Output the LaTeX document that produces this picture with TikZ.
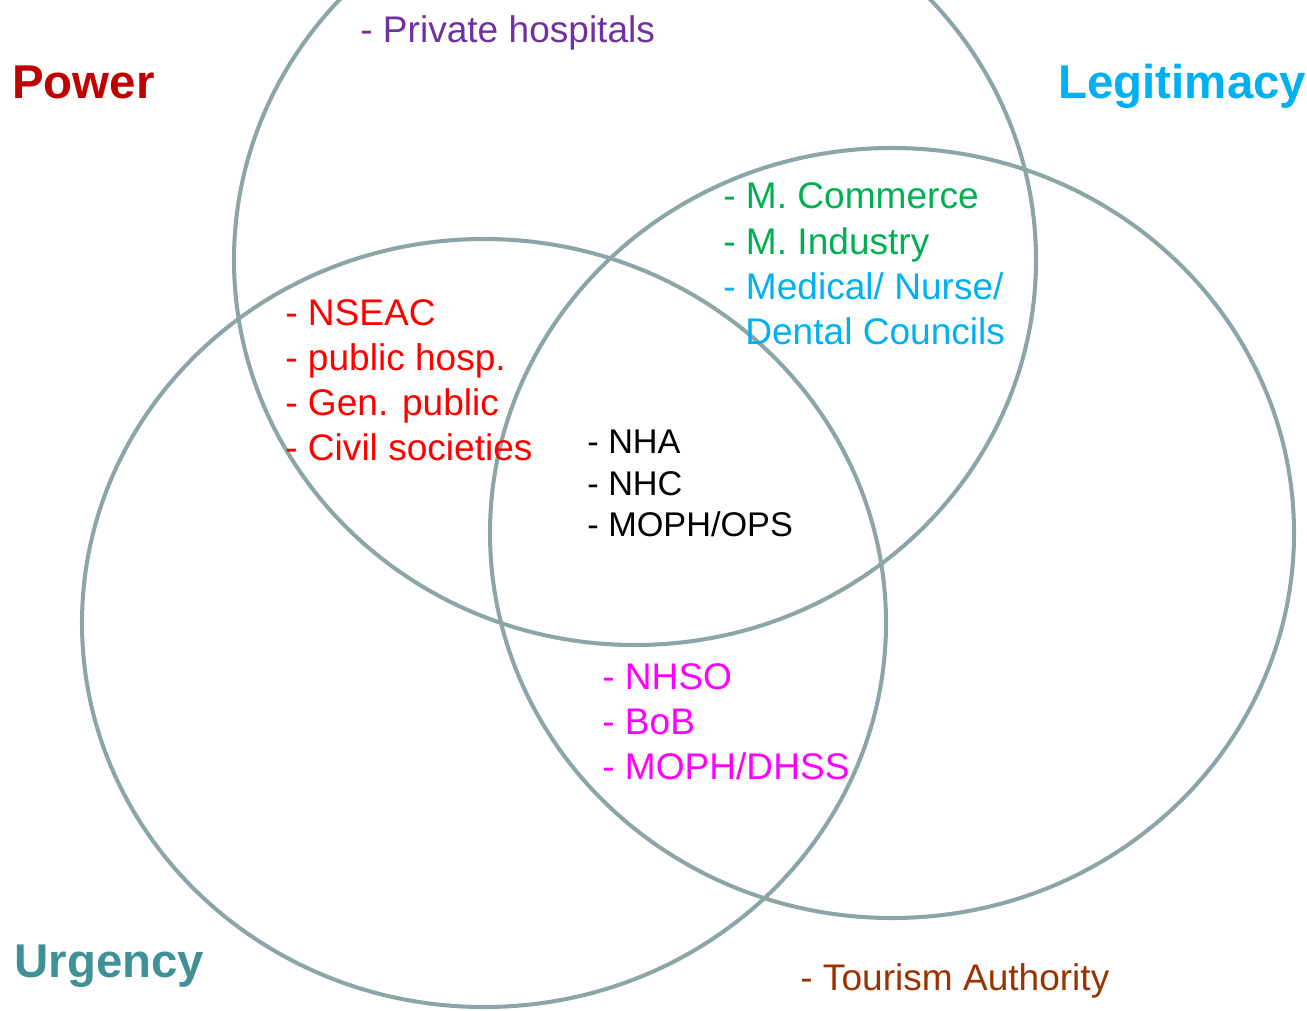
\documentclass[tikz,border=0pt]{standalone}
\usepackage{fontspec}
\setmainfont{Liberation Sans}
\usetikzlibrary{positioning}
\definecolor{ringgray}{RGB}{140,165,167}
\definecolor{powerred}{RGB}{192,0,0}
\definecolor{legitblue}{RGB}{0,176,240}
\definecolor{urgteal}{RGB}{63,145,151}
\definecolor{privpurple}{RGB}{112,48,160}
\definecolor{grpred}{RGB}{255,0,0}
\definecolor{grpgreen}{RGB}{0,176,80}
\definecolor{grpmagenta}{RGB}{255,0,255}
\definecolor{tourbrown}{RGB}{153,51,0}

\begin{document}
\begin{tikzpicture}[
		x=0.02cm, y=-0.02cm,
		ring/.style={draw=ringgray, line width=2.3pt},
		title/.style={anchor=base west, inner sep=0pt, font=\fontsize{27}{32}\selectfont\bfseries},
		item/.style={anchor=base west, inner sep=0pt, font=\fontsize{21.1}{25}\selectfont},
		core/.style={anchor=base west, inner sep=0pt, font=\fontsize{19.5}{23}\selectfont},
	]
	\useasboundingbox (0,0) rectangle (1307,1010);
	\clip (0,0) rectangle (1307,1010);

	% the three attribute rings
	\coordinate (power) at (635,260);
	\coordinate (legit) at (892,533);
	\coordinate (urgency) at (484,623);
	\draw[ring] (power) ellipse [x radius=401, y radius=385];
	\draw[ring] (legit) ellipse [x radius=402, y radius=385];
	\draw[ring] (urgency) ellipse [x radius=402, y radius=384];

	% attribute titles
	\node[title, powerred] (lblpower) at (12,99) {Power};
	\node[title, legitblue] (lbllegit) at (1058,99) {Legitimacy};
	\node[title, urgteal] (lblurgency) at (14,977) {Urgency};

	% power only
	\node[item, privpurple] (private) at (360,43) {- Private hospitals};

	% power and urgency
	\node[item, grpred] (nseac) at (285,325) {- NSEAC};
	\node[item, grpred] (pubhosp) at (285,370) {- public hosp.};
	\node[item, grpred] (genpub) at (285,415) {- Gen. public};
	\node[item, grpred] (civil) at (285,460) {- Civil societies};

	% power and legitimacy
	\node[item, grpgreen] (commerce) at (723,209) {- M. Commerce};
	\node[item, grpgreen] (industry) at (723,254) {- M. Industry};
	\node[item, legitblue] (medical) at (723,299) {- Medical/ Nurse/};
	\node[item, legitblue] (dental) at (745,344) {Dental Councils};

	% all three
	\node[core] (nha) at (587,453) {- NHA};
	\node[core] (nhc) at (587,495) {- NHC};
	\node[core] (mophops) at (587,536) {- MOPH/OPS};

	% legitimacy and urgency
	\node[item, grpmagenta] (nhso) at (602,689) {- NHSO};
	\node[item, grpmagenta] (bob) at (602,734) {- BoB};
	\node[item, grpmagenta] (dhss) at (602,779) {- MOPH/DHSS};

	% outside
	\node[item, tourbrown] (tourism) at (800,990) {- Tourism Authority};
\end{tikzpicture}
\end{document}
